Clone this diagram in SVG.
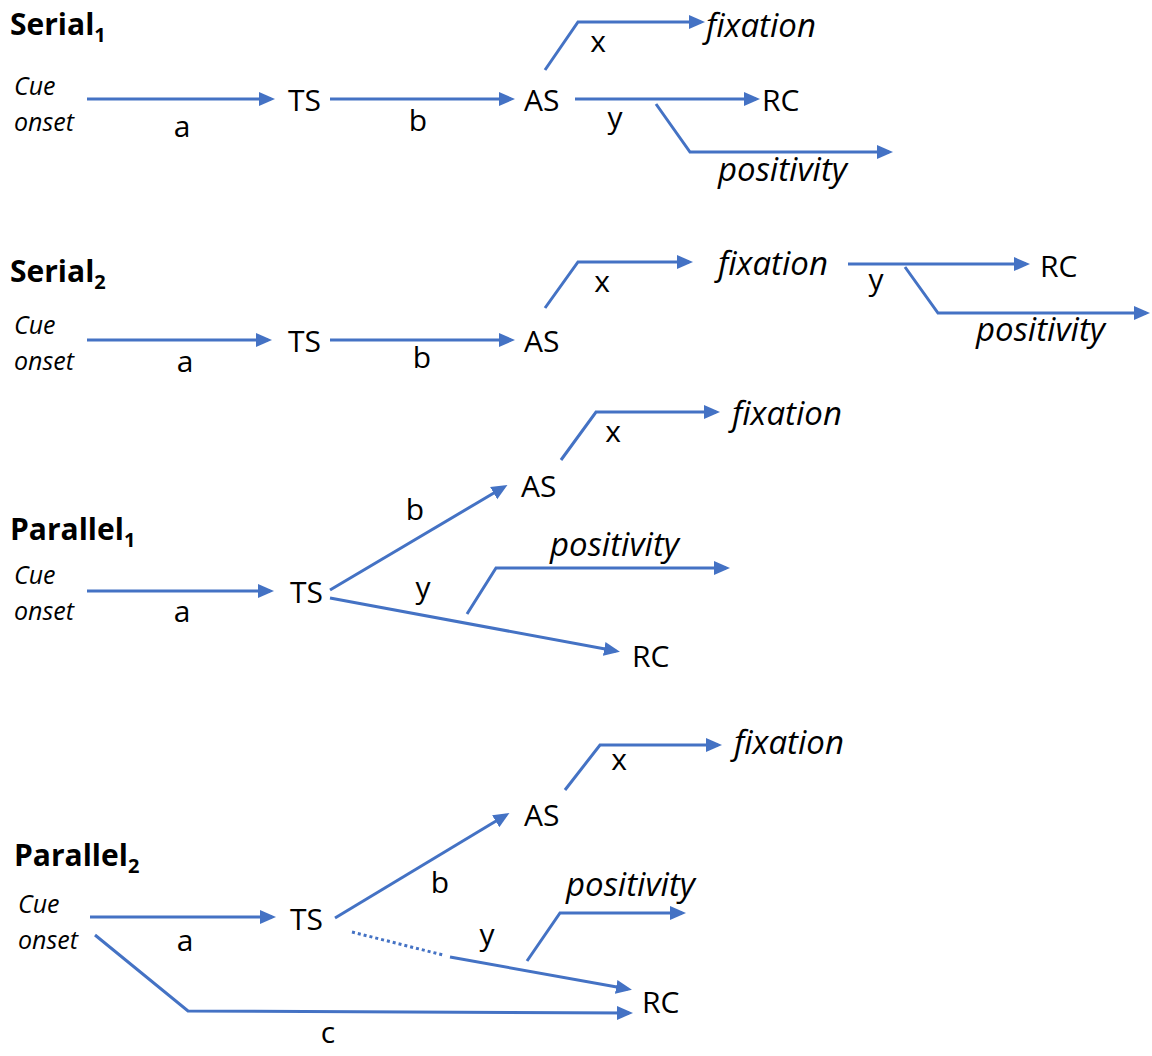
<svg xmlns="http://www.w3.org/2000/svg" width="1152" height="1056" viewBox="0 0 1152 1056">
<defs>
<marker id="ah" markerUnits="userSpaceOnUse" markerWidth="18" markerHeight="16" refX="12" refY="8" orient="auto">
<path d="M0,1 L16,8 L0,15 z" fill="#4472C4"/>
</marker>
<style>
text{font-family:"Open Sans","Liberation Sans",sans-serif;fill:#000}
.t{font-size:30px;font-weight:bold}
.sub{font-size:20px;font-weight:bold}
.cue{font-size:25px;font-style:italic}
.n{font-size:30px}
.i{font-size:33px;font-style:italic}
.e{font-size:30px}
.c path{fill:none;stroke:#4472C4;stroke-width:3}
.ar{marker-end:url(#ah)}
.dot{stroke-dasharray:3 3}
</style>
</defs>
<rect width="1152" height="1056" fill="#fff"/>

<g id="titles">
<text class="t" x="10" y="35">Serial<tspan class="sub" dy="7">1</tspan></text>
<text class="t" x="10" y="282">Serial<tspan class="sub" dy="7">2</tspan></text>
<text class="t" x="10" y="540">Parallel<tspan class="sub" dy="7">1</tspan></text>
<text class="t" x="14" y="866">Parallel<tspan class="sub" dy="7">2</tspan></text>
</g>

<g id="connectors" class="c">
<!-- Serial1 -->
<path class="ar" d="M87,99 H271"/>
<path class="ar" d="M330,99 H511"/>
<path class="ar" d="M545,70 L578,22 H701"/>
<path class="ar" d="M575,99 H756"/>
<path class="ar" d="M656,104 L690,152 H889"/>
<!-- Serial2 -->
<path class="ar" d="M87,340 H268"/>
<path class="ar" d="M330,340 H511"/>
<path class="ar" d="M545,308 L578,262 H689"/>
<path class="ar" d="M848,264 H1026"/>
<path class="ar" d="M905,267 L938,313 H1146"/>
<!-- Parallel1 -->
<path class="ar" d="M87,591 H270"/>
<path class="ar" d="M330,590 L504,487"/>
<path class="ar" d="M561,460 L596,412 H716"/>
<path class="ar" d="M330,598 L616,651"/>
<path class="ar" d="M467,614 L496,568 H726"/>
<!-- Parallel2 -->
<path class="ar" d="M90,917 H272"/>
<path class="ar" d="M335,918 L506,815"/>
<path class="ar" d="M565,790 L600,745 H718"/>
<path class="dot" d="M352,932 L443,955"/>
<path class="ar" d="M450,957 L628,989"/>
<path class="ar" d="M527,961 L560,913 H682"/>
<path class="ar" d="M95,935 L188,1011 L629,1013"/>
</g>

<g id="edge-labels">
<text class="e" x="182" y="137" text-anchor="middle">a</text>
<text class="e" x="418" y="131" text-anchor="middle">b</text>
<text class="e" x="598" y="52" text-anchor="middle">x</text>
<text class="e" x="615" y="128" text-anchor="middle">y</text>
<text class="e" x="185" y="372" text-anchor="middle">a</text>
<text class="e" x="422" y="368" text-anchor="middle">b</text>
<text class="e" x="602" y="292" text-anchor="middle">x</text>
<text class="e" x="876" y="290" text-anchor="middle">y</text>
<text class="e" x="182" y="622" text-anchor="middle">a</text>
<text class="e" x="415" y="520" text-anchor="middle">b</text>
<text class="e" x="613" y="442" text-anchor="middle">x</text>
<text class="e" x="423" y="598" text-anchor="middle">y</text>
<text class="e" x="185" y="951" text-anchor="middle">a</text>
<text class="e" x="440" y="893" text-anchor="middle">b</text>
<text class="e" x="619" y="770" text-anchor="middle">x</text>
<text class="e" x="487" y="945" text-anchor="middle">y</text>
<text class="e" x="328" y="1043" text-anchor="middle">c</text>
</g>

<g id="s1-cue"><text class="cue" x="14" y="95">Cue</text><text class="cue" x="14" y="131">onset</text></g>
<g id="s1-ts"><text class="n" x="288" y="111">TS</text></g>
<g id="s1-as"><text class="n" x="524" y="111">AS</text></g>
<g id="s1-fix"><text class="i" x="706" y="37">fixation</text></g>
<g id="s1-rc"><text class="n" x="762" y="111">RC</text></g>
<g id="s1-pos"><text class="i" x="718" y="181">positivity</text></g>

<g id="s2-cue"><text class="cue" x="14" y="334">Cue</text><text class="cue" x="14" y="370">onset</text></g>
<g id="s2-ts"><text class="n" x="288" y="352">TS</text></g>
<g id="s2-as"><text class="n" x="524" y="352">AS</text></g>
<g id="s2-fix"><text class="i" x="718" y="275">fixation</text></g>
<g id="s2-rc"><text class="n" x="1040" y="277">RC</text></g>
<g id="s2-pos"><text class="i" x="976" y="341">positivity</text></g>

<g id="p1-cue"><text class="cue" x="14" y="584">Cue</text><text class="cue" x="14" y="620">onset</text></g>
<g id="p1-ts"><text class="n" x="290" y="603">TS</text></g>
<g id="p1-as"><text class="n" x="521" y="497">AS</text></g>
<g id="p1-fix"><text class="i" x="732" y="425">fixation</text></g>
<g id="p1-rc"><text class="n" x="632" y="667">RC</text></g>
<g id="p1-pos"><text class="i" x="550" y="556">positivity</text></g>

<g id="p2-cue"><text class="cue" x="18" y="913">Cue</text><text class="cue" x="18" y="949">onset</text></g>
<g id="p2-ts"><text class="n" x="290" y="930">TS</text></g>
<g id="p2-as"><text class="n" x="524" y="826">AS</text></g>
<g id="p2-fix"><text class="i" x="734" y="754">fixation</text></g>
<g id="p2-rc"><text class="n" x="642" y="1013">RC</text></g>
<g id="p2-pos"><text class="i" x="566" y="896">positivity</text></g>
</svg>
